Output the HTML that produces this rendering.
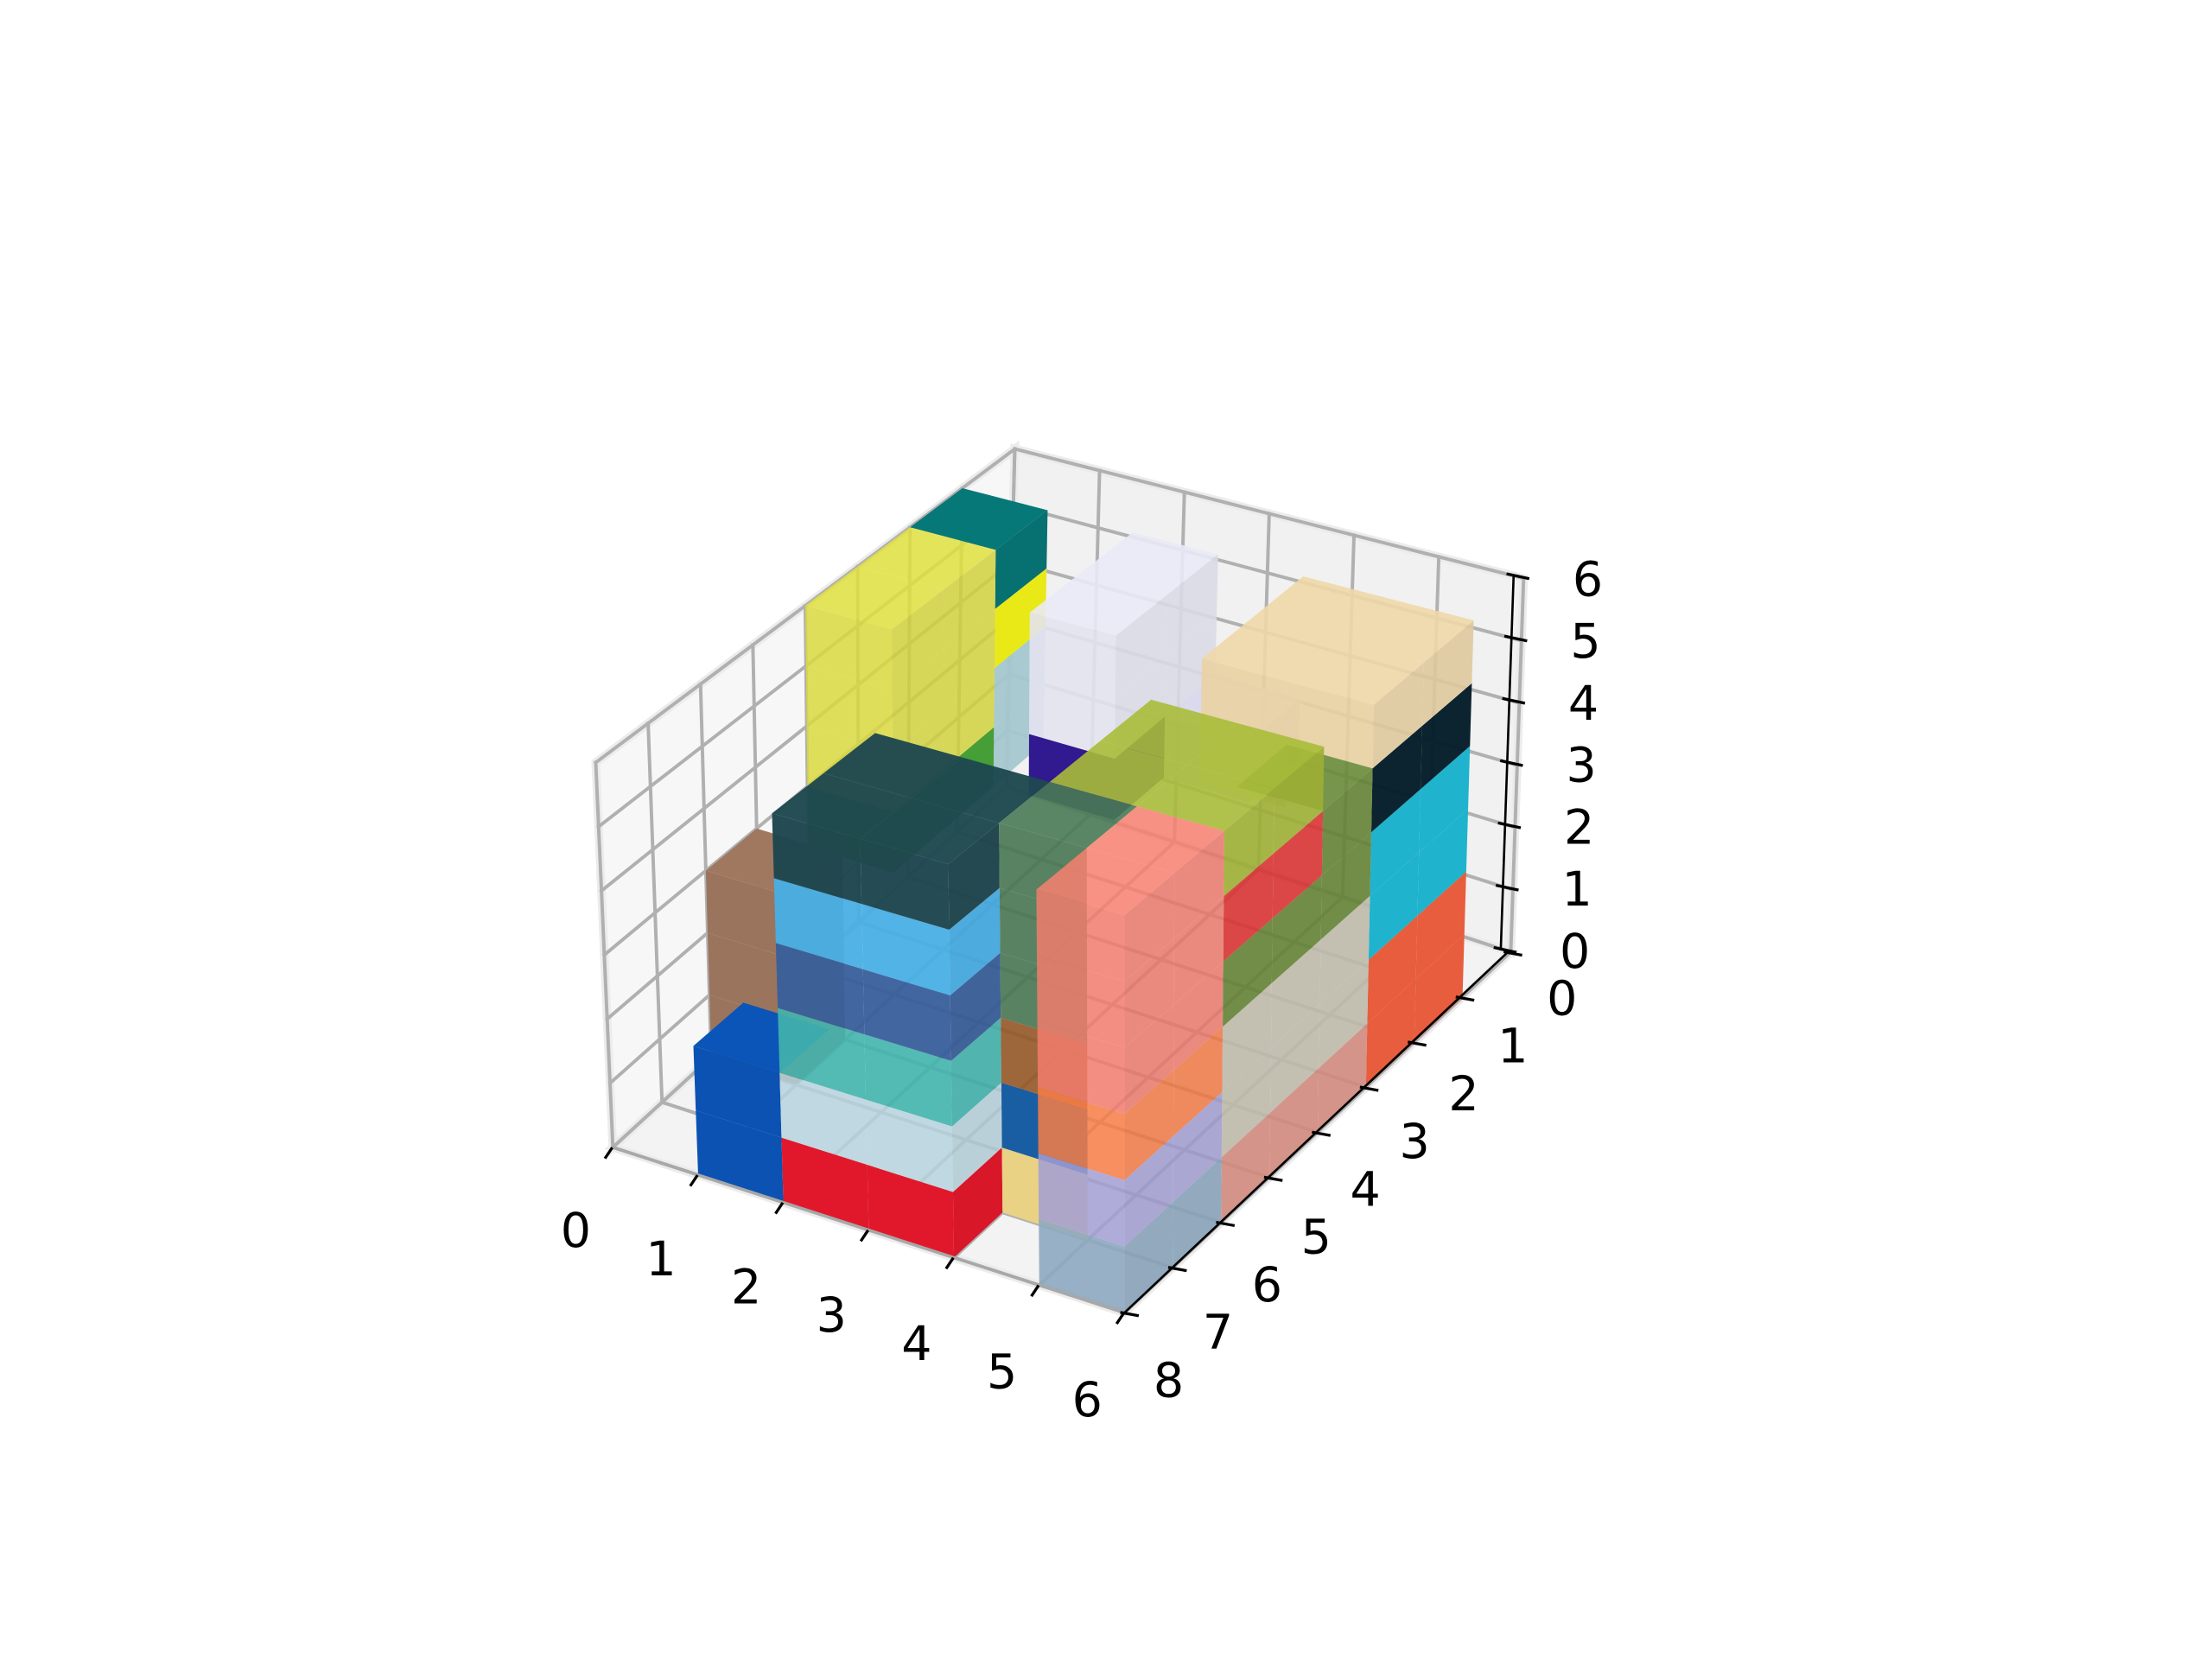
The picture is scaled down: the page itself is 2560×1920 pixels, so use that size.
<!DOCTYPE html>
<html><head><meta charset="utf-8"><style>
html,body{margin:0;padding:0;background:#fff;}
svg{display:block;}
text{font-family:"DejaVu Sans","Liberation Sans",sans-serif;font-size:33.6px;fill:#000;}
</style></head><body>
<svg id="chart" width="2560" height="1920" viewBox="0 0 1552 1164" xmlns="http://www.w3.org/2000/svg">
<g id="panes"></g>
<g id="grid"></g>
<g id="vox"></g>
<g id="axes"></g>
</svg>
<script>
// ---- data: voxel boxes (grid ranges, colour, opacity) ----
const bx0 = [0,0,0,0,0,2,2,2,3,2,2,2,2,2,2,1,0,4,4,5,5,5,5,5,5,5,5,5,4,4,4,4,4,5,5,5,5];
const bx1 = [1,1,1,1,1,3,3,3,4,4,4,4,4,4,4,2,1,6,5,6,6,6,6,6,6,6,6,6,6,5,5,5,5,6,6,6,6];
const by0 = [1,1,1,2,2,1,1,2,1,6,6,6,6,6,7,7,5,1,1,1,2,1,1,3,3,3,4,3,4,6,6,6,6,6,6,6,6];
const by1 = [2,2,2,4,4,3,2,3,2,8,8,8,8,8,8,8,6,3,3,3,3,3,3,6,6,6,6,4,6,7,7,7,7,8,8,8,8];
const bz0 = [5,4,2,3,2,4,3,3,3,5,4,3,2,1,0,0,0,5,4,4,3,2,0,0,1,3,4,4,5,0,1,2,3,0,1,2,3];
const bz1 = [6,5,4,6,3,6,4,4,4,6,5,4,3,2,1,2,3,6,5,5,4,4,2,1,3,4,5,5,6,1,2,3,6,1,2,3,6];
const bColor = ['#077878','#fafa1a','#b0d6de','#e0e040','#4aaa3a','#eaeaf7','#d8d6ec','#331a94','#d8d6ec',
  '#1f4850','#4ab4ec','#3a62a0','#44bab2','#bcd8e4','#e8192c','#0b55b8','#a07860',
  '#f0d8a8','#f0d8a8','#041e2c','#041e2c','#22c0dc','#f86442',
  '#e09488','#ccc8b8','#6a8c38','#e83838','#6a8c38','#a8bc38',
  '#f0d888','#1a60a8','#9a5a28','#4a7a55',
  '#92aec6','#a8a4dc','#ff8048','#f88070'];
const bAlpha = [1,1,0.95,0.85,1,0.9,0.9,1,0.9,
  0.97,0.95,0.95,0.9,0.85,1,1,1,
  0.9,0.9,0.97,0.97,1,1,
  0.9,0.9,0.9,0.9,0.9,0.9,
  1,1,0.9,0.9,
  0.9,0.85,0.85,0.85];
const xTicks = ['0','1','2','3','4','5','6'];
const yTicks = ['0','1','2','3','4','5','6','7','8'];
const zTicks = ['0','1','2','3','4','5','6'];

// ---- projection (fitted perspective-like bilinear map) ----
const F = {x00:706,y00:552,x60:1060,y60:668,x08:430,y08:805,x68:789,y68:921};
const H = [39.5,43.7,45,46.5], L = [1,1.5,-2,0];
function bil(a00,a60,a08,a68,x,y){const u=x/6,v=y/8;return (1-u)*(1-v)*a00+u*(1-v)*a60+(1-u)*v*a08+u*v*a68;}
function P(x,y,z){
  const fx=bil(F.x00,F.x60,F.x08,F.x68,x,y), fy=bil(F.y00,F.y60,F.y08,F.y68,x,y);
  const h=bil(H[0],H[1],H[2],H[3],x,y), l=bil(L[0],L[1],L[2],L[3],x,y);
  return [fx+l*z, fy-h*z];
}
const NS='http://www.w3.org/2000/svg';
function poly(g,pts,fill,op,name){
  const e=document.createElementNS(NS,'polygon');
  e.setAttribute('points',pts.map(p=>p[0].toFixed(2)+','+p[1].toFixed(2)).join(' '));
  e.setAttribute('fill',fill);
  if(op<1)e.setAttribute('fill-opacity',op);
  
  
  g.appendChild(e);return e;
}
function line(g,a,b,col,w,name){
  const e=document.createElementNS(NS,'line');
  e.setAttribute('x1',a[0]);e.setAttribute('y1',a[1]);e.setAttribute('x2',b[0]);e.setAttribute('y2',b[1]);
  e.setAttribute('stroke',col);e.setAttribute('stroke-width',w);e.setAttribute('stroke-linecap','square');
  
  
  g.appendChild(e);
}
function text(g,x,y,s,name){
  const e=document.createElementNS(NS,'text');
  e.setAttribute('x',x);e.setAttribute('y',y);e.setAttribute('text-anchor','middle');e.setAttribute('dominant-baseline','central');
  e.textContent=s;
  
  
  g.appendChild(e);
}
// panes
const gp=document.getElementById('panes');
poly(gp,[P(0,8,0),P(0,0,0),P(0,0,6),P(0,8,6)],'#f7f7f7',1,'left-pane').setAttribute('stroke','#ececec');
poly(gp,[P(0,0,0),P(6,0,0),P(6,0,6),P(0,0,6)],'#f1f1f1',1,'back-pane').setAttribute('stroke','#ececec');
poly(gp,[P(0,0,0),P(6,0,0),P(6,8,0),P(0,8,0)],'#f3f3f3',1,'floor-pane').setAttribute('stroke','#ececec');
gp.querySelectorAll('polygon').forEach(p=>p.setAttribute('stroke-width','6'));
// grid
const gg=document.getElementById('grid');
for(let y=0;y<=8;y++){line(gg,P(0,y,0),P(0,y,6),'#b0b0b0',2.4,'grid-left-y');line(gg,P(0,y,0),P(6,y,0),'#b0b0b0',2.4,'grid-floor-y');}
for(let x=0;x<=6;x++){line(gg,P(x,0,0),P(x,0,6),'#b0b0b0',2.4,'grid-back-x');line(gg,P(x,0,0),P(x,8,0),'#b0b0b0',2.4,'grid-floor-x');}
for(let z=0;z<=6;z++){line(gg,P(0,0,z),P(0,8,z),'#b0b0b0',2.4,'grid-left-z');line(gg,P(0,0,z),P(6,0,z),'#b0b0b0',2.4,'grid-back-z');}
// voxels
const grid={};
for(let i=0;i<bx0.length;i++)
  for(let x=bx0[i];x<bx1[i];x++)for(let y=by0[i];y<by1[i];y++)for(let z=bz0[i];z<bz1[i];z++)
    grid[x+','+y+','+z]={c:bColor[i],a:bAlpha[i]};
function shade(c,f){const n=parseInt(c.slice(1),16);const r=Math.round(((n>>16)&255)*f),g=Math.round(((n>>8)&255)*f),b=Math.round((n&255)*f);return 'rgb('+r+','+g+','+b+')';}
const cells=Object.keys(grid).map(k=>k.split(',').map(Number));
cells.sort((a,b)=>(a[0]+a[1]+a[2])-(b[0]+b[1]+b[2]));
const gv=document.getElementById('vox');
cells.forEach(([x,y,z])=>{
  const v=grid[x+','+y+','+z];
  if(!grid[x+','+(y+1)+','+z]) poly(gv,[P(x,y+1,z),P(x+1,y+1,z),P(x+1,y+1,z+1),P(x,y+1,z+1)],shade(v.c,0.97),v.a,'voxel-front-face');
  if(!grid[(x+1)+','+y+','+z]) poly(gv,[P(x+1,y,z),P(x+1,y+1,z),P(x+1,y+1,z+1),P(x+1,y,z+1)],shade(v.c,0.93),v.a,'voxel-side-face');
  if(!grid[x+','+y+','+(z+1)]) poly(gv,[P(x,y,z+1),P(x+1,y,z+1),P(x+1,y+1,z+1),P(x,y+1,z+1)],shade(v.c,1),v.a,'voxel-top-face');
});
// axes
const ga=document.getElementById('axes');
line(ga,P(0,8,0),P(6,8,0),'#a8a8a8',2,'x-axis-line');
line(ga,[789,921],[1058,668],'#000',1.6,'y-axis-line');
line(ga,[1053,666],[1062,404],'#000',1.6,'z-axis-line');
xTicks.forEach((t,k)=>{const p=P(k,8,0);line(ga,[p[0]-1,p[1]+1],[p[0]-5,p[1]+7],'#000',2,'x-tick');text(ga,404+59.8*k,864+19.8*k,t,'x-tick-label');});
yTicks.forEach((t,k)=>{const p=[789+(1058-789)*(8-k)/8,921-(921-668)*(8-k)/8];line(ga,[p[0]-2,p[1]],[p[0]+9,p[1]+2],'#000',2,'y-tick');text(ga,820+34.5*(8-k),969-33.5*(8-k),t,'y-tick-label');});
zTicks.forEach((t,k)=>{const y=666-43.7*k,x=1053+1.5*k;line(ga,[x-4,y-1],[x+10,y+2],'#000',2,'z-tick');text(ga,1105+1.5*k,668-43.5*k,t,'z-tick-label');});
</script>
</body></html>
